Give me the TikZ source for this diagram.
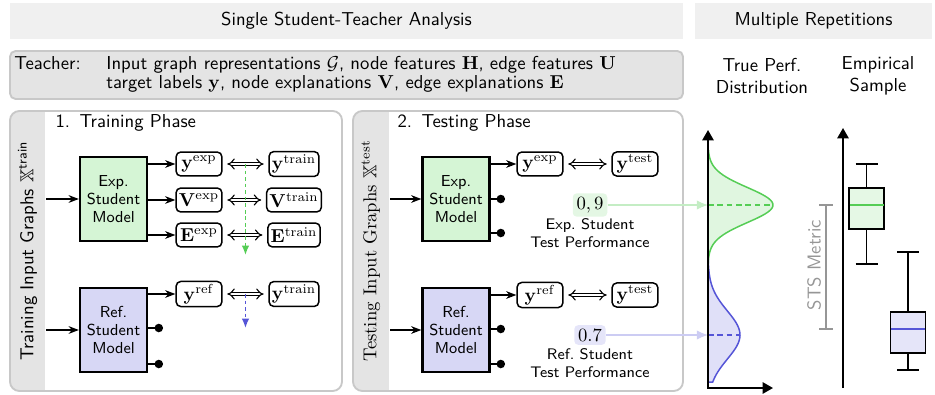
\documentclass[tikz,border=0pt]{standalone}
\usepackage{amsmath,amssymb}
\usetikzlibrary{calc, arrows.meta, positioning}

\definecolor{expgreen}{RGB}{85,205,85}
\definecolor{expfill}{RGB}{213,245,213}
\definecolor{refblue}{RGB}{85,85,215}
\definecolor{reffill}{RGB}{215,215,245}
\definecolor{bandgray}{RGB}{240,240,240}
\definecolor{stripgray}{RGB}{228,228,228}
\definecolor{framegray}{RGB}{200,200,200}
\definecolor{metricgray}{RGB}{150,150,150}

\tikzset{
    model/.style={draw, very thick, minimum width=1.26cm, minimum height=1.58cm, align=center, font=\sffamily\fontsize{8.5}{9.5}\selectfont},
    outbox/.style={draw, thick, rounded corners=2.5pt, minimum width=0.86cm, minimum height=0.45cm, inner sep=1.5pt},
    feed/.style={thick, -{Stealth[length=5.5pt]}},
    sink/.style={thick, -{Circle[length=4.5pt]}},
    match/.style={double, double distance=1.4pt, semithick, Implies-Implies, shorten <=2.5pt, shorten >=2.5pt},
    drift/.style={thick, dash pattern=on 2pt off 1.5pt, -{Latex[length=5pt, width=4pt]}},
    panel/.style={draw=framegray, line width=1pt, rounded corners=5pt},
    valbox/.style={rounded corners=2pt, inner sep=2pt},
    perfnote/.style={font=\sffamily\fontsize{8.2}{10}\selectfont, align=center},
    perfaxis/.style={line width=1pt},
    axistip/.tip={Triangle[length=5.5pt, width=6pt]},
}

\begin{document}
\begin{tikzpicture}[x=0.0188cm, y=-0.0188cm, every node/.style={font=\sffamily}]
    \useasboundingbox (0,0) rectangle (935,394);
    % header bands
    \fill[bandgray] (10,3) rectangle (683,39);
    \fill[bandgray] (695,3) rectangle (932,39);
    \node (hdsingle) at (346.5,21) {Single Student-Teacher Analysis};
    \node (hdmulti) at (813.5,21) {Multiple Repetitions};
    % teacher
    \draw[fill=stripgray, draw=framegray, line width=1pt, rounded corners=3pt] (10,51) rectangle (683,99);
    \node[anchor=base west, inner xsep=0pt] (teacher) at (14,69) {Teacher:};
    \node[anchor=base west, inner xsep=0pt] (teachone) at (106,69) {Input graph representations $\mathcal{G}$, node features $\mathbf{H}$, edge features $\mathbf{U}$};
    \node[anchor=base west, inner xsep=0pt] (teachtwo) at (106,88) {target labels $\mathbf{y}$, node explanations $\mathbf{V}$, edge explanations $\mathbf{E}$};
    % panels
    \foreach \l/\r/\s in {10/342/45, 353/683/389}{
        \begin{scope}
            \clip[rounded corners=5pt] (\l,111) rectangle (\r,391);
            \fill[stripgray] (\l,111) rectangle (\s,391);
        \end{scope}
        \draw[panel] (\l,111) rectangle (\r,391);
    }

    % training phase
    \node[rotate=90] (trlabel) at (27.5,251) {Training Input Graphs $\mathbb{X}^{\text{train}}$};
    \node[anchor=west] (trtitle) at (49,123) {1.\enspace Training Phase};
    \node[model, fill=expfill] (trexp) at (113.5,199) {Exp.\\Student\\Model};
    \node[model, fill=reffill] (trref) at (113.5,330) {Ref.\\Student\\Model};
    \coordinate (trinexp) at (46,199);
    \coordinate (trinref) at (46,330);
    \draw[feed] (trinexp) -- (trexp);
    \draw[feed] (trinref) -- (trref);
    \foreach \key/\sym/\yy in {y/y/164, v/V/200, e/E/235}{
        \node[outbox] (tr\key exp) at (199,\yy) {$\mathbf{\sym}^{\mathrm{exp}}$};
        \node[outbox] (tr\key train) at (294,\yy) {$\mathbf{\sym}^{\mathrm{train}}$};
        \draw[feed] (trexp.east |- tr\key exp) -- (tr\key exp);
        \draw[match] (tr\key exp) -- (tr\key train);
    }
    \node[outbox] (tryref) at (199,294) {$\mathbf{y}^{\mathrm{ref}}$};
    \node[outbox] (trytrainref) at (294,294) {$\mathbf{y}^{\mathrm{train}}$};
    \draw[feed] (trref.east |- tryref) -- (tryref);
    \draw[match] (tryref) -- (trytrainref);
    \foreach \yy [count=\k] in {328,364}{
        \coordinate (trsink\k) at (163,\yy);
        \draw[sink] (trref.east |- trsink\k) -- (trsink\k);
    }
    \coordinate (trmidexp) at ($(tryexp.east)!0.5!(trytrain.west)$);
    \coordinate (trmidref) at ($(tryref.east)!0.5!(trytrainref.west)$);
    \draw[drift, expgreen] (trmidexp) -- ++(0,91);
    \draw[drift, refblue] (trmidref) -- ++(0,34);

    % testing phase
    \node[rotate=90, font=\rmfamily] (tslabel) at (371,251) {Testing Input Graphs $\mathbb{X}^{\text{test}}$};
    \node[anchor=west] (tstitle) at (391,123) {2.\enspace Testing Phase};
    \node[model, fill=expfill] (tsexp) at (456,199) {Exp.\\Student\\Model};
    \node[model, fill=reffill] (tsref) at (456,330) {Ref.\\Student\\Model};
    \coordinate (tsinexp) at (390,199);
    \coordinate (tsinref) at (390,330);
    \draw[feed] (tsinexp) -- (tsexp);
    \draw[feed] (tsinref) -- (tsref);
    \node[outbox] (tsyexp) at (540,164) {$\mathbf{y}^{\mathrm{exp}}$};
    \node[outbox] (tsytest) at (635,164) {$\mathbf{y}^{\mathrm{test}}$};
    \node[outbox] (tsyref) at (540,295) {$\mathbf{y}^{\mathrm{ref}}$};
    \node[outbox] (tsytestref) at (635,295) {$\mathbf{y}^{\mathrm{test}}$};
    \draw[feed] (tsexp.east |- tsyexp) -- (tsyexp);
    \draw[feed] (tsref.east |- tsyref) -- (tsyref);
    \draw[match] (tsyexp) -- (tsytest);
    \draw[match] (tsyref) -- (tsytestref);
    \foreach \yy [count=\k] in {199,233}{
        \coordinate (tsexpsink\k) at (505,\yy);
        \draw[sink] (tsexp.east |- tsexpsink\k) -- (tsexpsink\k);
    }
    \foreach \yy [count=\k] in {329,364}{
        \coordinate (tsrefsink\k) at (505,\yy);
        \draw[sink] (tsref.east |- tsrefsink\k) -- (tsrefsink\k);
    }
    \node[valbox, fill=expgreen!16] (tsexpval) at (590,205) {$0,9$};
    \node[perfnote] (tsexpnote) at (590,233) {Exp.\ Student\\Test Performance};
    \node[valbox, fill=refblue!15] (tsrefval) at (590,335) {$0.7$};
    \node[perfnote] (tsrefnote) at (590,363) {Ref.\ Student\\Test Performance};

    % true performance distribution
    \node[align=center] (disttitle) at (762,76) {True Perf.\\Distribution};
    \coordinate (dexpmean) at (708,205);
    \coordinate (drefmean) at (708,335);
    \fill[expgreen!18] (708,150) -- plot[domain=150:264, samples=60, variable=\yy] ({708+65*exp(-0.5*((\yy-205)/17.5)*((\yy-205)/17.5))}, \yy) -- (708,264) -- cycle;
    \fill[refblue!18] (708,230) -- plot[domain=230:382, samples=60, variable=\yy] ({708+32*exp(-0.5*((\yy-335)/24)*((\yy-335)/24))}, \yy) -- (708,382) -- cycle;
    \draw[expgreen, thick] plot[domain=150:264, samples=60, variable=\yy] ({708+65*exp(-0.5*((\yy-205)/17.5)*((\yy-205)/17.5))}, \yy);
    \draw[refblue, thick] plot[domain=230:382, samples=60, variable=\yy] ({708+32*exp(-0.5*((\yy-335)/24)*((\yy-335)/24))}, \yy) -- (708,382);
    \draw[expgreen, thick, dash pattern=on 3pt off 2pt] (dexpmean) -- (773,205);
    \draw[refblue, thick, dash pattern=on 3pt off 2pt] (drefmean) -- (740,335);
    \draw[expgreen!35, semithick, -{Latex[length=6pt, width=5pt]}] (tsexpval) -- (dexpmean);
    \draw[refblue!30, semithick, -{Latex[length=6pt, width=5pt]}] (tsrefval) -- (drefmean);
    \draw[perfaxis, axistip-axistip] (708,130) |- (773,388);

    % empirical sample
    \node[align=center] (samptitle) at (878,76) {Empirical\\Sample};
    \draw[perfaxis, -axistip] (843,388) -- (843,128);
    \foreach \cx/\wlo/\qlo/\med/\qhi/\whi/\col in {866.5/164/188/205/229/264/expgreen, 908/252/312/329/353/370/refblue}{
        \draw[thick] (\cx-11,\wlo) -- (\cx+11,\wlo) (\cx,\wlo) -- (\cx,\qlo);
        \draw[thick] (\cx-11,\whi) -- (\cx+11,\whi) (\cx,\whi) -- (\cx,\qhi);
        \draw[thick, fill=\col!15] (\cx-17.5,\qlo) rectangle (\cx+17.5,\qhi);
        \draw[\col, thick] (\cx-17,\med) -- (\cx+17,\med);
    }
    \draw[metricgray, thick] (819,205) -- (833,205) (826,205) -- (826,329) (819,329) -- (833,329);
    \node[rotate=90, text=metricgray] (stsmetric) at (814,265) {STS Metric};
\end{tikzpicture}
\end{document}
